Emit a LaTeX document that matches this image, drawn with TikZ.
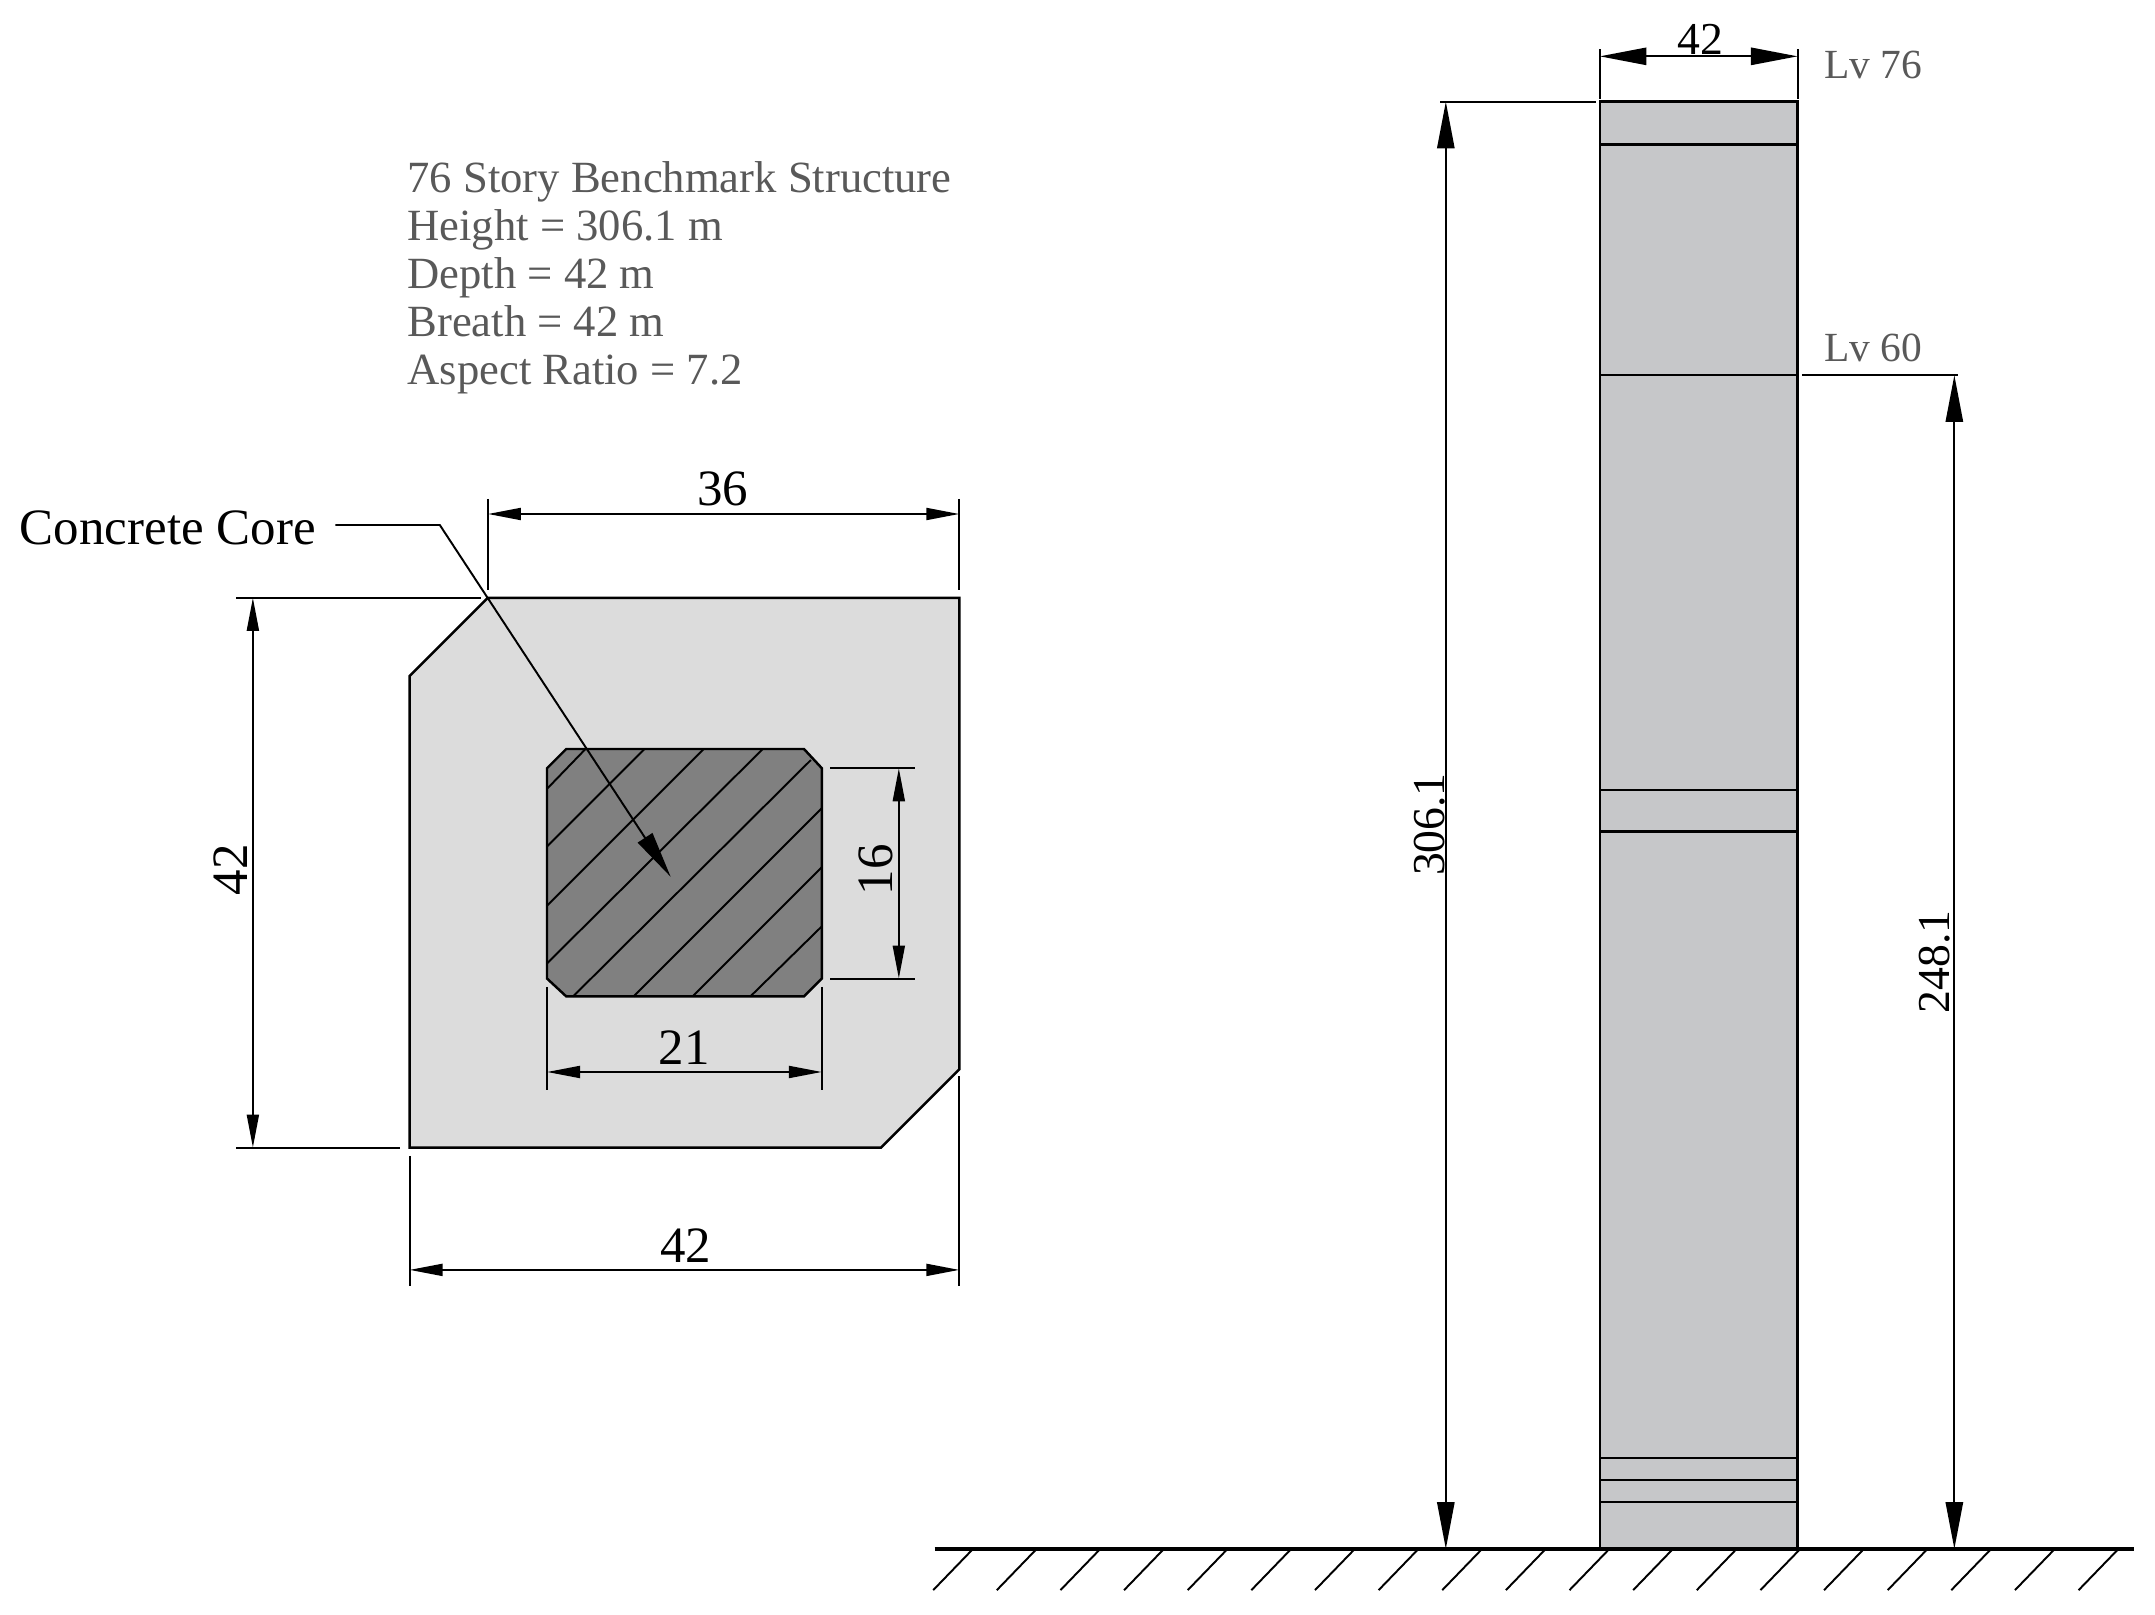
\documentclass[tikz,border=0pt]{standalone}
\usepackage{fontspec}
\setmainfont{Liberation Serif}
\usetikzlibrary{arrows.meta}
\definecolor{plategray}{HTML}{DCDCDC}
\definecolor{coregray}{HTML}{808080}
\definecolor{columngray}{HTML}{C6C7C9}
\definecolor{notegray}{HTML}{595959}
\tikzset{
	thinline/.style={line width=.55pt},
	outline/.style={line width=.7pt},
	dimsmall/.style={line width=.6pt,{Triangle[length=9.4pt,width=3.4pt]}-{Triangle[length=9.4pt,width=3.4pt]}},
	dimbig/.style={line width=.6pt,{Triangle[length=13.3pt,width=4.9pt]}-{Triangle[length=13.3pt,width=4.9pt]}},
	dimtext/.style={inner sep=0pt,font=\fontsize{14.5}{16}\selectfont},
	elevtext/.style={inner sep=0pt,font=\fontsize{13}{16}\selectfont},
	notetext/.style={inner sep=0pt,text=notegray,font=\fontsize{12.7}{16}\selectfont},
	lvtext/.style={inner sep=0pt,text=notegray,font=\fontsize{11.8}{16}\selectfont},
}
\begin{document}
\begin{tikzpicture}[x=.013744cm,y=-.013744cm]
	\useasboundingbox (0,0) rectangle (1568,1175);

	% plan view
	\draw[outline,fill=plategray] (298,492)--(355,435)--(698,435)--(698,778)--(641,835)--(298,835)--cycle;
	\draw[outline,fill=coregray] (412,545)--(585,545)--(598,559)--(598,712)--(585,725)--(412,725)--(398,712)--(398,559)--cycle;
	\foreach \xa/\ya/\xb/\yb in {398/574/426/545,398/616/469/545,398/659/512/545,398/701/555/545,417/725/590/553,461/725/598/588,504/725/598/631,546/725/598/674}
		\draw[thinline] (\xa,\ya)--(\xb,\yb);

	% plan dimensions
	\draw[thinline] (355,363)--(355,429);
	\draw[thinline] (698,363)--(698,429);
	\draw[dimsmall] (355,374)--(698,374);
	\node[dimtext] (topwidth) at (526,356) {36};

	\draw[thinline] (172,435)--(350,435);
	\draw[thinline] (172,835)--(291,835);
	\draw[dimsmall] (184,435)--(184,835);
	\node[dimtext,rotate=90] (plateheight) at (168,633) {42};

	\draw[thinline] (298,841)--(298,936);
	\draw[thinline] (698,783)--(698,936);
	\draw[dimsmall] (298,924)--(698,924);
	\node[dimtext] (platewidth) at (499,906) {42};

	\draw[thinline] (604,559)--(666,559);
	\draw[thinline] (604,712)--(666,712);
	\draw[dimsmall] (654,559)--(654,712);
	\node[dimtext,rotate=90] (coreheight) at (637,633) {16};

	\draw[thinline] (398,718)--(398,793);
	\draw[thinline] (598,718)--(598,793);
	\draw[dimsmall] (398,780)--(598,780);
	\node[dimtext] (corewidth) at (498,762) {21};

	% leader
	\node[dimtext,anchor=west] (corelabel) at (14,384) {Concrete Core};
	\coordinate (leadstart) at (244,382);
	\coordinate (leadbend) at (320,382);
	\coordinate (leadtip) at (488,638);
	\draw[thinline,-{Triangle[length=13.3pt,width=4.9pt]}] (leadstart)--(leadbend)--(leadtip);

	% notes
	\node[notetext,anchor=base west] (noteA) at (296,140) {76 Story Benchmark Structure};
	\node[notetext,anchor=base west] (noteB) at (296,175) {Height = 306.1 m};
	\node[notetext,anchor=base west] (noteC) at (296,210) {Depth = 42 m};
	\node[notetext,anchor=base west] (noteD) at (296,245) {Breath = 42 m};
	\node[notetext,anchor=base west] (noteE) at (296,280) {Aspect Ratio = 7.2};

	% elevation
	\draw[outline,fill=columngray] (1164,74) rectangle (1308,1127);
	\foreach \ylv in {105,273,575,605,1061,1077,1093}
		\draw[outline] (1164,\ylv)--(1308,\ylv);
	\draw[line width=1.1pt] (680,1127)--(1553,1127);
	\foreach \i in {0,...,18}
		\draw[thinline] ({708+46.3*\i},1127)--({679+46.3*\i},1157);

	% elevation dimensions
	\draw[thinline] (1164,36)--(1164,72);
	\draw[thinline] (1308,36)--(1308,72);
	\draw[dimbig] (1164,41)--(1308,41);
	\node[elevtext] (columnwidth) at (1237,29) {42};
	\draw[thinline] (1048,74)--(1161,74);
	\draw[dimbig] (1052,74)--(1052,1127);
	\node[elevtext,rotate=90] (totalheight) at (1040,600) {306.1};
	\draw[thinline] (1311,273)--(1425,273);
	\draw[dimbig] (1422,273)--(1422,1127);
	\node[elevtext,rotate=90] (lowerheight) at (1408,700) {248.1};
	\node[lvtext,anchor=base west] (lvtop) at (1327,57) {Lv 76};
	\node[lvtext,anchor=base west] (lvmid) at (1327,263) {Lv 60};
\end{tikzpicture}
\end{document}
